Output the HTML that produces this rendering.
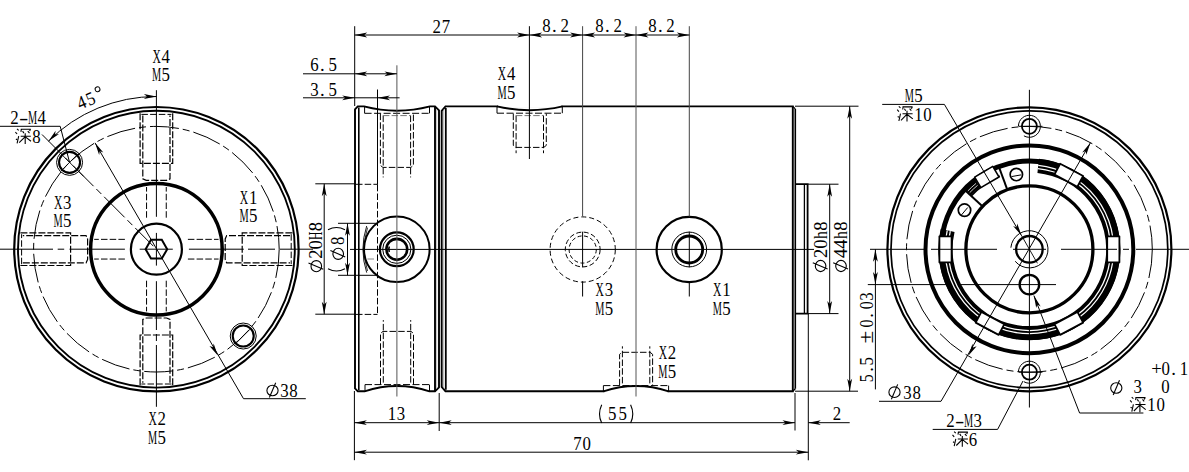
<!DOCTYPE html>
<html><head><meta charset="utf-8"><style>
html,body{margin:0;padding:0;background:#fff;width:1189px;height:472px;overflow:hidden}
svg{display:block}
text{font-family:"Liberation Serif",serif;fill:#000}
</style></head><body>
<svg width="1189" height="472" viewBox="0 0 1189 472">
<rect width="1189" height="472" fill="#fff"/>
<circle cx="156.4" cy="249.2" r="142.2" fill="none" stroke="#000" stroke-width="2.2"/>
<circle cx="156.4" cy="249.2" r="138.4" fill="none" stroke="#000" stroke-width="1.9"/>
<circle cx="156.4" cy="249.2" r="122.8" fill="none" stroke="#000" stroke-width="1" stroke-dasharray="29 4 7 4"/>
<circle cx="156.4" cy="249.2" r="65.8" fill="none" stroke="#000" stroke-width="3.5"/>
<circle cx="156.4" cy="249.2" r="25.5" fill="none" stroke="#000" stroke-width="2.2"/>
<polygon points="167.2,249.2 161.8,258.55 151,258.55 145.6,249.2 151,239.85 161.8,239.85" fill="none" stroke="#000" stroke-width="2"/>
<polyline points="292.4,232.9 242.2,232.9 242.2,265.5 292.4,265.5" fill="none" stroke="#000" stroke-width="1.2" stroke-dasharray="7 2"/>
<polyline points="290,235.6 226.7,235.6 225.2,239 225.2,259.4 226.7,262.8 290,262.8" fill="none" stroke="#000" stroke-width="1.2" stroke-dasharray="7 2"/>
<polyline points="291.2,234.2 291.2,264.2" fill="none" stroke="#000" stroke-width="1" stroke-dasharray="6.5 2.2"/>
<polyline points="187.9,239.35 218.6,239.35" fill="none" stroke="#000" stroke-width="1" stroke-dasharray="6.5 2.2"/>
<polyline points="187.9,259.05 218.6,259.05" fill="none" stroke="#000" stroke-width="1" stroke-dasharray="6.5 2.2"/>
<polyline points="172.7,385.2 172.7,335 140.1,335 140.1,385.2" fill="none" stroke="#000" stroke-width="1.2" stroke-dasharray="7 2"/>
<polyline points="170,382.8 170,319.5 166.6,318 146.2,318 142.8,319.5 142.8,382.8" fill="none" stroke="#000" stroke-width="1.2" stroke-dasharray="7 2"/>
<polyline points="171.4,384 141.4,384" fill="none" stroke="#000" stroke-width="1" stroke-dasharray="6.5 2.2"/>
<polyline points="166.25,280.7 166.25,311.4" fill="none" stroke="#000" stroke-width="1" stroke-dasharray="6.5 2.2"/>
<polyline points="146.55,280.7 146.55,311.4" fill="none" stroke="#000" stroke-width="1" stroke-dasharray="6.5 2.2"/>
<polyline points="20.4,265.5 70.6,265.5 70.6,232.9 20.4,232.9" fill="none" stroke="#000" stroke-width="1.2" stroke-dasharray="7 2"/>
<polyline points="22.8,262.8 86.1,262.8 87.6,259.4 87.6,239 86.1,235.6 22.8,235.6" fill="none" stroke="#000" stroke-width="1.2" stroke-dasharray="7 2"/>
<polyline points="21.6,264.2 21.6,234.2" fill="none" stroke="#000" stroke-width="1" stroke-dasharray="6.5 2.2"/>
<polyline points="124.9,259.05 94.2,259.05" fill="none" stroke="#000" stroke-width="1" stroke-dasharray="6.5 2.2"/>
<polyline points="124.9,239.35 94.2,239.35" fill="none" stroke="#000" stroke-width="1" stroke-dasharray="6.5 2.2"/>
<polyline points="140.1,113.2 140.1,163.4 172.7,163.4 172.7,113.2" fill="none" stroke="#000" stroke-width="1.2" stroke-dasharray="7 2"/>
<polyline points="142.8,115.6 142.8,178.9 146.2,180.4 166.6,180.4 170,178.9 170,115.6" fill="none" stroke="#000" stroke-width="1.2" stroke-dasharray="7 2"/>
<polyline points="141.4,114.4 171.4,114.4" fill="none" stroke="#000" stroke-width="1" stroke-dasharray="6.5 2.2"/>
<polyline points="146.55,217.7 146.55,187" fill="none" stroke="#000" stroke-width="1" stroke-dasharray="6.5 2.2"/>
<polyline points="166.25,217.7 166.25,187" fill="none" stroke="#000" stroke-width="1" stroke-dasharray="6.5 2.2"/>
<line x1="0" y1="249.2" x2="53" y2="249.2" stroke="#000" stroke-width="1" stroke-linecap="butt"/>
<line x1="57.7" y1="249.2" x2="64.2" y2="249.2" stroke="#000" stroke-width="1" stroke-linecap="butt"/>
<line x1="69.5" y1="249.2" x2="124.9" y2="249.2" stroke="#000" stroke-width="1" stroke-linecap="butt"/>
<line x1="139.7" y1="249.2" x2="172.8" y2="249.2" stroke="#000" stroke-width="1" stroke-linecap="butt"/>
<line x1="188.9" y1="249.2" x2="243.8" y2="249.2" stroke="#000" stroke-width="1" stroke-linecap="butt"/>
<line x1="248" y1="249.2" x2="275" y2="249.2" stroke="#000" stroke-width="1" stroke-linecap="butt"/>
<line x1="280" y1="249.2" x2="313" y2="249.2" stroke="#000" stroke-width="1" stroke-linecap="butt"/>
<line x1="156.4" y1="90.2" x2="156.4" y2="216.8" stroke="#000" stroke-width="1" stroke-linecap="butt"/>
<line x1="156.4" y1="232.9" x2="156.4" y2="265.6" stroke="#000" stroke-width="1" stroke-linecap="butt"/>
<line x1="156.4" y1="281.2" x2="156.4" y2="330" stroke="#000" stroke-width="1" stroke-linecap="butt"/>
<line x1="156.4" y1="334" x2="156.4" y2="341" stroke="#000" stroke-width="1" stroke-linecap="butt"/>
<line x1="156.4" y1="345" x2="156.4" y2="406.8" stroke="#000" stroke-width="1" stroke-linecap="butt"/>
<line x1="42" y1="134.5" x2="153.4" y2="246.2" stroke="#000" stroke-width="1" stroke-dasharray="29 4 7 4" stroke-linecap="butt"/>
<circle cx="69.57" cy="162.37" r="10.5" fill="none" stroke="#000" stroke-width="2.1"/>
<circle cx="69.57" cy="162.37" r="13" fill="none" stroke="#000" stroke-width="1"/>
<circle cx="243.23" cy="336.03" r="10.5" fill="none" stroke="#000" stroke-width="2.1"/>
<circle cx="243.23" cy="336.03" r="13" fill="none" stroke="#000" stroke-width="1"/>
<line x1="60.57" y1="171.37" x2="78.57" y2="153.37" stroke="#000" stroke-width="0.9" stroke-linecap="butt"/>
<line x1="60.57" y1="153.37" x2="83.57" y2="176.37" stroke="#000" stroke-width="0.9" stroke-linecap="butt"/>
<line x1="235.23" y1="344.03" x2="251.23" y2="328.03" stroke="#000" stroke-width="0.9" stroke-linecap="butt"/>
<line x1="0" y1="126.3" x2="60.2" y2="126.3" stroke="#000" stroke-width="1" stroke-linecap="butt"/>
<line x1="60.2" y1="126.3" x2="69.57" y2="162.37" stroke="#000" stroke-width="1" stroke-linecap="butt"/>
<g font-size="18.7"><text transform="translate(14.45 123.6) scale(0.9 1)" text-anchor="middle">2</text><text transform="translate(23.55 123.6) scale(1.5 1)" text-anchor="middle">-</text><text transform="translate(32.65 123.6) scale(0.55 1)" text-anchor="middle">M</text><text transform="translate(41.75 123.6) scale(0.9 1)" text-anchor="middle">4</text></g>
<g transform="translate(14.9 128.5)"><path d="M2.1 0.3 L3.8 1.8 M0.5 3.6 L2.2 5.5 M1.0 10.5 L2.2 11.2 M2.2 14.9 L3.8 7.6 M5.9 0.8 L15.9 0.8 M6.4 0.8 L6.0 3.4 M15.6 0.8 L14.7 2.6 M7.7 2.6 L9.0 4.6 M12.9 2.6 L14.6 4.6 M5.8 7.7 L15.9 7.7 M10.3 4.7 L10.3 15.4 M10.1 8.3 L4.3 14.2 M10.8 8.6 L16.1 12.8" fill="none" stroke="#000" stroke-width="1.1"/></g>
<g font-size="18.7"><text transform="translate(36.35 142.9) scale(0.9 1)" text-anchor="middle">8</text></g>
<path d="M48.42 141.22 A152.7 152.7 0 0 1 156.4 96.5" fill="none" stroke="#000" stroke-width="1"/>
<polygon points="156.4,96.5 143.9,94.1 146.9,96.5 143.9,98.9" fill="#000"/>
<polygon points="48.42,141.22 58.96,134.08 55.14,134.51 55.57,130.69" fill="#000"/>
<g transform="translate(80.5 109.5) rotate(-22.5)" font-size="18.7"><text transform="translate(3.6 0) scale(0.9 1)" text-anchor="middle">4</text><text transform="translate(13.4 0) scale(0.9 1)" text-anchor="middle">5</text><circle cx="23.5" cy="-12.2" r="2.4" fill="none" stroke="#000" stroke-width="1"/></g>
<polygon points="95,142.85 99.17,154.88 99.75,151.08 103.33,152.48" fill="#000"/>
<line x1="95" y1="142.85" x2="243.5" y2="398.7" stroke="#000" stroke-width="1" stroke-linecap="butt"/>
<line x1="243.5" y1="398.7" x2="305.8" y2="398.7" stroke="#000" stroke-width="1" stroke-linecap="butt"/>
<polygon points="217.8,355.55 213.63,343.52 213.05,347.32 209.47,345.92" fill="#000"/>
<g transform="translate(272.5 390.5) rotate(0) scale(1.0)"><ellipse cx="0" cy="0" rx="5.6" ry="5.3" fill="none" stroke="#000" stroke-width="1.1"/><line x1="3.2" y1="-7.8" x2="-3.1" y2="7" stroke="#000" stroke-width="1.1"/></g>
<g font-size="18.7"><text transform="translate(284.45 396.6) scale(0.9 1)" text-anchor="middle">3</text><text transform="translate(293.55 396.6) scale(0.9 1)" text-anchor="middle">8</text></g>
<g font-size="18.7"><text transform="translate(156.65 62.9) scale(0.62 1)" text-anchor="middle">X</text><text transform="translate(165.75 62.9) scale(0.9 1)" text-anchor="middle">4</text></g>
<g font-size="18.7"><text transform="translate(156.65 80.9) scale(0.55 1)" text-anchor="middle">M</text><text transform="translate(165.75 80.9) scale(0.9 1)" text-anchor="middle">5</text></g>
<g font-size="18.7"><text transform="translate(58.15 209.2) scale(0.62 1)" text-anchor="middle">X</text><text transform="translate(67.25 209.2) scale(0.9 1)" text-anchor="middle">3</text></g>
<g font-size="18.7"><text transform="translate(58.15 227.4) scale(0.55 1)" text-anchor="middle">M</text><text transform="translate(67.25 227.4) scale(0.9 1)" text-anchor="middle">5</text></g>
<g font-size="18.7"><text transform="translate(244.05 203.9) scale(0.62 1)" text-anchor="middle">X</text><text transform="translate(253.15 203.9) scale(0.9 1)" text-anchor="middle">1</text></g>
<g font-size="18.7"><text transform="translate(244.05 221.9) scale(0.55 1)" text-anchor="middle">M</text><text transform="translate(253.15 221.9) scale(0.9 1)" text-anchor="middle">5</text></g>
<g font-size="18.7"><text transform="translate(152.65 425.4) scale(0.62 1)" text-anchor="middle">X</text><text transform="translate(161.75 425.4) scale(0.9 1)" text-anchor="middle">2</text></g>
<g font-size="18.7"><text transform="translate(152.65 444) scale(0.55 1)" text-anchor="middle">M</text><text transform="translate(161.75 444) scale(0.9 1)" text-anchor="middle">5</text></g>
<path d="M355 388.3 L355 109.4 L357.8 106.4 L364 106.4 Q397 115.0 430 106.4 L435 106.4 L439 110.4 L439 387.3 L435 391.3 L429.5 391.3 Q397 380.7 364.5 391.3 L357.8 391.3 L355 388.3 Z" fill="none" stroke="#000" stroke-width="1.9"/>
<line x1="358.8" y1="107.6" x2="358.8" y2="390.1" stroke="#000" stroke-width="1.6" stroke-linecap="butt"/>
<line x1="435" y1="106.4" x2="435" y2="391.3" stroke="#000" stroke-width="1.9" stroke-linecap="butt"/>
<line x1="436.7" y1="109.4" x2="436.7" y2="388.3" stroke="#999" stroke-width="0.6" stroke-linecap="butt"/>
<path d="M441.7 110.9 L445.5 106.4 L792.8 106.4 L792.8 391.3 L445.5 391.3 L441.7 386.8 Z" fill="none" stroke="#000" stroke-width="1.9"/>
<line x1="443.5" y1="109.4" x2="443.5" y2="388.3" stroke="#999" stroke-width="0.6" stroke-linecap="butt"/>
<line x1="445.8" y1="107.9" x2="445.8" y2="389.8" stroke="#000" stroke-width="1.8" stroke-linecap="butt"/>
<line x1="795.3" y1="108.9" x2="795.3" y2="388.8" stroke="#000" stroke-width="1.6" stroke-linecap="butt"/>
<polyline points="792.8,106.4 795.3,108.9" fill="none" stroke="#000" stroke-width="1.3"/>
<polyline points="792.8,391.3 795.3,388.8" fill="none" stroke="#000" stroke-width="1.3"/>
<rect x="498" y="104.4" width="63.5" height="3.5" fill="#fff"/>
<path d="M497 106.4 Q529.5 114 562.5 106.4" fill="none" stroke="#000" stroke-width="1.9"/>
<rect x="604.4" y="389.8" width="63.2" height="3.5" fill="#fff"/>
<path d="M603.4 391.3 Q636 380.7 668.6 391.3" fill="none" stroke="#000" stroke-width="1.9"/>
<path d="M795 184.2 L807.6 184.2 L807.6 313.6 L795 313.6" fill="none" stroke="#000" stroke-width="1.8"/>
<line x1="804.4" y1="185" x2="804.4" y2="313" stroke="#000" stroke-width="1.3" stroke-linecap="butt"/>
<line x1="364.6" y1="106.4" x2="364.6" y2="113.3" stroke="#000" stroke-width="1" stroke-linecap="butt"/>
<line x1="429.5" y1="106.4" x2="429.5" y2="113.3" stroke="#000" stroke-width="1" stroke-linecap="butt"/>
<line x1="364.6" y1="113.3" x2="429.5" y2="113.3" stroke="#000" stroke-width="1" stroke-dasharray="7 2.5" stroke-linecap="butt"/>
<line x1="365" y1="391.3" x2="365" y2="384.6" stroke="#000" stroke-width="1" stroke-linecap="butt"/>
<line x1="429.5" y1="391.3" x2="429.5" y2="384.6" stroke="#000" stroke-width="1" stroke-linecap="butt"/>
<line x1="365" y1="384.6" x2="429.5" y2="384.6" stroke="#000" stroke-width="1" stroke-dasharray="7 2.5" stroke-linecap="butt"/>
<line x1="497" y1="106.4" x2="497" y2="113.2" stroke="#000" stroke-width="1" stroke-linecap="butt"/>
<line x1="562.3" y1="106.4" x2="562.3" y2="113.2" stroke="#000" stroke-width="1" stroke-linecap="butt"/>
<line x1="497" y1="113.2" x2="562.3" y2="113.2" stroke="#000" stroke-width="1" stroke-dasharray="7 2.5" stroke-linecap="butt"/>
<line x1="603.4" y1="391.3" x2="603.4" y2="385.6" stroke="#000" stroke-width="1" stroke-linecap="butt"/>
<line x1="668.6" y1="391.3" x2="668.6" y2="385.6" stroke="#000" stroke-width="1" stroke-linecap="butt"/>
<line x1="603.4" y1="385.6" x2="668.6" y2="385.6" stroke="#000" stroke-width="1" stroke-dasharray="7 2.5" stroke-linecap="butt"/>
<polyline points="380.4,113.6 380.4,165.4 382.9,167.4 410.9,167.4 413.4,165.4 413.4,113.6" fill="none" stroke="#000" stroke-width="1" stroke-dasharray="6.5 2.2"/>
<line x1="383.2" y1="115.6" x2="383.2" y2="177.4" stroke="#000" stroke-width="1" stroke-dasharray="6.5 2.2" stroke-linecap="butt"/>
<line x1="410.6" y1="115.6" x2="410.6" y2="177.4" stroke="#000" stroke-width="1" stroke-dasharray="6.5 2.2" stroke-linecap="butt"/>
<line x1="382.9" y1="115.6" x2="410.9" y2="115.6" stroke="#777" stroke-width="1" stroke-dasharray="6.5 2.2" stroke-linecap="butt"/>
<polyline points="380.5,384.6 380.5,333.4 383,331.4 411,331.4 413.5,333.4 413.5,384.6" fill="none" stroke="#000" stroke-width="1" stroke-dasharray="6.5 2.2"/>
<line x1="383.3" y1="382.6" x2="383.3" y2="320.1" stroke="#000" stroke-width="1" stroke-dasharray="6.5 2.2" stroke-linecap="butt"/>
<line x1="410.7" y1="382.6" x2="410.7" y2="320.1" stroke="#000" stroke-width="1" stroke-dasharray="6.5 2.2" stroke-linecap="butt"/>
<polyline points="513.3,113.6 513.3,145.4 515.8,147.4 543.8,147.4 546.3,145.4 546.3,113.6" fill="none" stroke="#000" stroke-width="1" stroke-dasharray="6.5 2.2"/>
<line x1="516.1" y1="115.6" x2="516.1" y2="153.2" stroke="#000" stroke-width="1" stroke-dasharray="6.5 2.2" stroke-linecap="butt"/>
<line x1="543.5" y1="115.6" x2="543.5" y2="153.2" stroke="#000" stroke-width="1" stroke-dasharray="6.5 2.2" stroke-linecap="butt"/>
<line x1="515.8" y1="115.6" x2="543.8" y2="115.6" stroke="#777" stroke-width="1" stroke-dasharray="6.5 2.2" stroke-linecap="butt"/>
<polyline points="619.6,385.4 619.6,354.3 622.1,352.3 650.1,352.3 652.6,354.3 652.6,385.4" fill="none" stroke="#000" stroke-width="1" stroke-dasharray="6.5 2.2"/>
<line x1="622.4" y1="383.4" x2="622.4" y2="346.3" stroke="#000" stroke-width="1" stroke-dasharray="6.5 2.2" stroke-linecap="butt"/>
<line x1="649.8" y1="383.4" x2="649.8" y2="346.3" stroke="#000" stroke-width="1" stroke-dasharray="6.5 2.2" stroke-linecap="butt"/>
<line x1="377.5" y1="184.8" x2="377.5" y2="314.2" stroke="#000" stroke-width="1" stroke-dasharray="6.5 2.2" stroke-linecap="butt"/>
<line x1="356" y1="184.3" x2="377.5" y2="184.3" stroke="#000" stroke-width="1" stroke-dasharray="6.5 2.2" stroke-linecap="butt"/>
<line x1="356" y1="314.4" x2="377.5" y2="314.4" stroke="#000" stroke-width="1" stroke-dasharray="6.5 2.2" stroke-linecap="butt"/>
<circle cx="396.8" cy="249.3" r="32.8" fill="none" stroke="#000" stroke-width="2"/>
<circle cx="396.8" cy="249.3" r="16.9" fill="none" stroke="#000" stroke-width="2.2"/>
<circle cx="396.8" cy="249.3" r="14.1" fill="none" stroke="#000" stroke-width="1"/>
<circle cx="396.8" cy="249.3" r="10.4" fill="none" stroke="#000" stroke-width="2.6"/>
<path d="M389.28 252.04 A8 8 0 0 1 389.28 246.56" fill="none" stroke="#000" stroke-width="1.6"/>
<path d="M366.7 272.63 A75.5 75.5 0 0 1 366.7 225.97" fill="none" stroke="#000" stroke-width="0.9"/>
<path d="M367.54 270.99 A74.2 74.2 0 0 1 367.54 227.61" fill="none" stroke="#000" stroke-width="0.8"/>
<line x1="367.4" y1="259" x2="374" y2="259" stroke="#888" stroke-width="1" stroke-linecap="butt"/>
<circle cx="582.7" cy="249.5" r="32.6" fill="none" stroke="#000" stroke-width="1" stroke-dasharray="5 3"/>
<circle cx="582.7" cy="249.5" r="17.4" fill="none" stroke="#000" stroke-width="1" stroke-dasharray="5 2.5"/>
<circle cx="582.7" cy="249.5" r="13.6" fill="none" stroke="#000" stroke-width="1" stroke-dasharray="4 2.5"/>
<circle cx="689.2" cy="249.5" r="32.6" fill="none" stroke="#000" stroke-width="2.2"/>
<circle cx="689.2" cy="249.5" r="17.4" fill="none" stroke="#000" stroke-width="1"/>
<circle cx="689.2" cy="249.5" r="13.5" fill="none" stroke="#000" stroke-width="2.8"/>
<line x1="350" y1="249.4" x2="814" y2="249.4" stroke="#000" stroke-width="1" stroke-linecap="butt"/>
<line x1="396.9" y1="65.3" x2="396.9" y2="396.5" stroke="#555" stroke-width="1" stroke-linecap="butt"/>
<line x1="529.4" y1="26.2" x2="529.4" y2="159" stroke="#000" stroke-width="1" stroke-linecap="butt"/>
<line x1="582.6" y1="26.2" x2="582.6" y2="216.5" stroke="#444" stroke-width="1" stroke-linecap="butt"/>
<line x1="582.6" y1="231.7" x2="582.6" y2="267.3" stroke="#000" stroke-width="1" stroke-linecap="butt"/>
<line x1="582.6" y1="281.2" x2="582.6" y2="296.5" stroke="#000" stroke-width="1" stroke-linecap="butt"/>
<line x1="636" y1="26.2" x2="636" y2="396.5" stroke="#555" stroke-width="1" stroke-linecap="butt"/>
<line x1="689.3" y1="26.2" x2="689.3" y2="216.5" stroke="#444" stroke-width="1" stroke-linecap="butt"/>
<line x1="689.3" y1="231.7" x2="689.3" y2="267.3" stroke="#000" stroke-width="1" stroke-linecap="butt"/>
<line x1="689.3" y1="281.2" x2="689.3" y2="296.5" stroke="#000" stroke-width="1" stroke-linecap="butt"/>
<line x1="354.7" y1="26.2" x2="354.7" y2="106" stroke="#000" stroke-width="1" stroke-linecap="butt"/>
<line x1="377.5" y1="89.5" x2="377.5" y2="184.8" stroke="#000" stroke-width="1" stroke-linecap="butt"/>
<line x1="354.7" y1="35" x2="689.4" y2="35" stroke="#000" stroke-width="1" stroke-linecap="butt"/>
<polygon points="354.7,35 367.2,37.4 364.2,35 367.2,32.6" fill="#000"/>
<polygon points="529.6,35 517.1,32.6 520.1,35 517.1,37.4" fill="#000"/>
<polygon points="529.6,35 542.1,37.4 539.1,35 542.1,32.6" fill="#000"/>
<polygon points="582.6,35 570.1,32.6 573.1,35 570.1,37.4" fill="#000"/>
<polygon points="582.6,35 595.1,37.4 592.1,35 595.1,32.6" fill="#000"/>
<polygon points="636,35 623.5,32.6 626.5,35 623.5,37.4" fill="#000"/>
<polygon points="636,35 648.5,37.4 645.5,35 648.5,32.6" fill="#000"/>
<polygon points="689.3,35 676.8,32.6 679.8,35 676.8,37.4" fill="#000"/>
<g font-size="18.7"><text transform="translate(436.75 32.5) scale(0.9 1)" text-anchor="middle">2</text><text transform="translate(445.85 32.5) scale(0.9 1)" text-anchor="middle">7</text></g>
<g font-size="18.7"><text transform="translate(546.55 31.8) scale(0.9 1)" text-anchor="middle">8</text><text x="552.1" y="31.8">.</text><text transform="translate(564.75 31.8) scale(0.9 1)" text-anchor="middle">2</text></g>
<g font-size="18.7"><text transform="translate(599.45 31.8) scale(0.9 1)" text-anchor="middle">8</text><text x="605" y="31.8">.</text><text transform="translate(617.65 31.8) scale(0.9 1)" text-anchor="middle">2</text></g>
<g font-size="18.7"><text transform="translate(652.35 31.8) scale(0.9 1)" text-anchor="middle">8</text><text x="657.9" y="31.8">.</text><text transform="translate(670.55 31.8) scale(0.9 1)" text-anchor="middle">2</text></g>
<line x1="303" y1="73.8" x2="396.9" y2="73.8" stroke="#000" stroke-width="1" stroke-linecap="butt"/>
<polygon points="354.7,73.8 367.2,76.2 364.2,73.8 367.2,71.4" fill="#000"/>
<polygon points="396.9,73.8 384.4,71.4 387.4,73.8 384.4,76.2" fill="#000"/>
<g font-size="18.7"><text transform="translate(314.45 71) scale(0.9 1)" text-anchor="middle">6</text><text x="320" y="71">.</text><text transform="translate(332.65 71) scale(0.9 1)" text-anchor="middle">5</text></g>
<line x1="303" y1="97.8" x2="399.6" y2="97.8" stroke="#000" stroke-width="1" stroke-linecap="butt"/>
<polygon points="354.7,97.8 342.2,95.4 345.2,97.8 342.2,100.2" fill="#000"/>
<polygon points="377.5,97.8 390,100.2 387,97.8 390,95.4" fill="#000"/>
<g font-size="18.7"><text transform="translate(314.45 95.9) scale(0.9 1)" text-anchor="middle">3</text><text x="320" y="95.9">.</text><text transform="translate(332.65 95.9) scale(0.9 1)" text-anchor="middle">5</text></g>
<line x1="354.4" y1="391" x2="354.4" y2="460.2" stroke="#000" stroke-width="1" stroke-linecap="butt"/>
<line x1="439.2" y1="393" x2="439.2" y2="431" stroke="#000" stroke-width="1" stroke-linecap="butt"/>
<line x1="795" y1="393" x2="795" y2="430.5" stroke="#000" stroke-width="1" stroke-linecap="butt"/>
<line x1="808.3" y1="313.6" x2="808.3" y2="460.3" stroke="#000" stroke-width="1" stroke-linecap="butt"/>
<line x1="354.4" y1="422.7" x2="795" y2="422.7" stroke="#000" stroke-width="1" stroke-linecap="butt"/>
<polygon points="354.4,422.7 366.9,425.1 363.9,422.7 366.9,420.3" fill="#000"/>
<polygon points="439.2,422.7 426.7,420.3 429.7,422.7 426.7,425.1" fill="#000"/>
<polygon points="439.2,422.7 451.7,425.1 448.7,422.7 451.7,420.3" fill="#000"/>
<polygon points="795,422.7 782.5,420.3 785.5,422.7 782.5,425.1" fill="#000"/>
<g font-size="18.7"><text transform="translate(391.95 420.2) scale(0.9 1)" text-anchor="middle">1</text><text transform="translate(401.05 420.2) scale(0.9 1)" text-anchor="middle">3</text></g>
<g font-size="18.7"><path d="M601.7 404.8 Q597.3 414.3 601.7 423.1" fill="none" stroke="#000" stroke-width="1.1"/><text transform="translate(612.25 420.3) scale(0.9 1)" text-anchor="middle">5</text><text transform="translate(622.75 420.3) scale(0.9 1)" text-anchor="middle">5</text><path d="M630.6 404.8 Q635 414.3 630.6 423.1" fill="none" stroke="#000" stroke-width="1.1"/></g>
<line x1="808.3" y1="422.7" x2="849.7" y2="422.7" stroke="#000" stroke-width="1" stroke-linecap="butt"/>
<polygon points="808.3,422.7 820.8,425.1 817.8,422.7 820.8,420.3" fill="#000"/>
<g font-size="18.7"><text transform="translate(836.95 420.3) scale(0.9 1)" text-anchor="middle">2</text></g>
<line x1="354.4" y1="452.2" x2="808.3" y2="452.2" stroke="#000" stroke-width="1" stroke-linecap="butt"/>
<polygon points="354.4,452.2 366.9,454.6 363.9,452.2 366.9,449.8" fill="#000"/>
<polygon points="808.3,452.2 795.8,449.8 798.8,452.2 795.8,454.6" fill="#000"/>
<g font-size="18.7"><text transform="translate(577.55 450) scale(0.9 1)" text-anchor="middle">7</text><text transform="translate(586.65 450) scale(0.9 1)" text-anchor="middle">0</text></g>
<line x1="315.3" y1="183.8" x2="356" y2="183.8" stroke="#000" stroke-width="1" stroke-linecap="butt"/>
<line x1="315.3" y1="314.2" x2="356" y2="314.2" stroke="#000" stroke-width="1" stroke-linecap="butt"/>
<line x1="324.2" y1="183.8" x2="324.2" y2="314.2" stroke="#000" stroke-width="1" stroke-linecap="butt"/>
<polygon points="324.2,183.8 321.8,196.3 324.2,193.3 326.6,196.3" fill="#000"/>
<polygon points="324.2,314.2 326.6,301.7 324.2,304.7 321.8,301.7" fill="#000"/>
<line x1="338" y1="223.3" x2="376" y2="223.3" stroke="#000" stroke-width="1" stroke-linecap="butt"/>
<line x1="338" y1="275.3" x2="376" y2="275.3" stroke="#000" stroke-width="1" stroke-linecap="butt"/>
<line x1="347.5" y1="223.3" x2="347.5" y2="275.3" stroke="#000" stroke-width="1" stroke-linecap="butt"/>
<polygon points="347.5,223.3 345.1,235.8 347.5,232.8 349.9,235.8" fill="#000"/>
<polygon points="347.5,275.3 349.9,262.8 347.5,265.8 345.1,262.8" fill="#000"/>
<g transform="translate(316.3 266.2) rotate(-90) scale(1.0)"><ellipse cx="0" cy="0" rx="5.6" ry="5.3" fill="none" stroke="#000" stroke-width="1.1"/><line x1="3.2" y1="-7.8" x2="-3.1" y2="7" stroke="#000" stroke-width="1.1"/></g>
<g transform="translate(322.3 258.5) rotate(-90)" font-size="18.7"><text transform="translate(4.5 0) scale(1 1)" text-anchor="middle">2</text><text transform="translate(13.6 0)" text-anchor="middle">0</text><text transform="translate(22.7 0) scale(0.62 1)" text-anchor="middle">H</text><text transform="translate(31.8 0)" text-anchor="middle">8</text></g>
<g transform="translate(344.5 271.7) rotate(-90)"><path d="M3 -16.5 Q-1.5 -8 3 0.5" fill="none" stroke="#000" stroke-width="1.1"/><path d="M42 -16.5 Q46.5 -8 42 0.5" fill="none" stroke="#000" stroke-width="1.1"/></g>
<g transform="translate(338.2 253.8) rotate(-90) scale(1.0)"><ellipse cx="0" cy="0" rx="5.6" ry="5.3" fill="none" stroke="#000" stroke-width="1.1"/><line x1="3.2" y1="-7.8" x2="-3.1" y2="7" stroke="#000" stroke-width="1.1"/></g>
<g transform="translate(344.2 240.8) rotate(-90)" font-size="18.7"><text transform="scale(0.9 1)" text-anchor="middle">8</text></g>
<line x1="808" y1="184.2" x2="838.5" y2="184.2" stroke="#000" stroke-width="1" stroke-linecap="butt"/>
<line x1="808" y1="313.6" x2="838.5" y2="313.6" stroke="#000" stroke-width="1" stroke-linecap="butt"/>
<line x1="829.7" y1="184.2" x2="829.7" y2="313.6" stroke="#000" stroke-width="1" stroke-linecap="butt"/>
<polygon points="829.7,184.2 827.3,196.7 829.7,193.7 832.1,196.7" fill="#000"/>
<polygon points="829.7,313.6 832.1,301.1 829.7,304.1 827.3,301.1" fill="#000"/>
<line x1="795" y1="106.2" x2="858.5" y2="106.2" stroke="#000" stroke-width="1" stroke-linecap="butt"/>
<line x1="795" y1="391.2" x2="858" y2="391.2" stroke="#000" stroke-width="1" stroke-linecap="butt"/>
<line x1="849.7" y1="106.2" x2="849.7" y2="391.2" stroke="#000" stroke-width="1" stroke-linecap="butt"/>
<polygon points="849.7,106.2 847.3,118.7 849.7,115.7 852.1,118.7" fill="#000"/>
<polygon points="849.7,391.2 852.1,378.7 849.7,381.7 847.3,378.7" fill="#000"/>
<g transform="translate(820.6 266) rotate(-90) scale(1.0)"><ellipse cx="0" cy="0" rx="5.6" ry="5.3" fill="none" stroke="#000" stroke-width="1.1"/><line x1="3.2" y1="-7.8" x2="-3.1" y2="7" stroke="#000" stroke-width="1.1"/></g>
<g transform="translate(827.0 257.8) rotate(-90)" font-size="18.7"><text transform="translate(4.5 0)" text-anchor="middle">2</text><text transform="translate(13.6 0)" text-anchor="middle">0</text><text transform="translate(22.7 0) scale(0.85 1)" text-anchor="middle">h</text><text transform="translate(31.8 0)" text-anchor="middle">8</text></g>
<g transform="translate(841 266) rotate(-90) scale(1.0)"><ellipse cx="0" cy="0" rx="5.6" ry="5.3" fill="none" stroke="#000" stroke-width="1.1"/><line x1="3.2" y1="-7.8" x2="-3.1" y2="7" stroke="#000" stroke-width="1.1"/></g>
<g transform="translate(847.4 257.8) rotate(-90)" font-size="18.7"><text transform="translate(4.5 0)" text-anchor="middle">4</text><text transform="translate(13.6 0)" text-anchor="middle">4</text><text transform="translate(22.7 0) scale(0.85 1)" text-anchor="middle">h</text><text transform="translate(31.8 0)" text-anchor="middle">8</text></g>
<line x1="875.4" y1="249.3" x2="875.4" y2="389.4" stroke="#000" stroke-width="1" stroke-linecap="butt"/>
<polygon points="875.4,249.3 873,261.8 875.4,258.8 877.8,261.8" fill="#000"/>
<polygon points="875.4,284.6 877.8,272.1 875.4,275.1 873,272.1" fill="#000"/>
<line x1="867.8" y1="284.6" x2="1056" y2="284.6" stroke="#000" stroke-width="1" stroke-linecap="butt"/>
<g transform="translate(872.8 382) rotate(-90)" font-size="18.7"><text transform="translate(3.8 0) scale(0.85 1)" text-anchor="middle">5</text><text x="10.2" y="0">.</text><text transform="translate(20.6 0) scale(0.9 1)" text-anchor="middle">5</text><text transform="translate(45 0) scale(1.25 1.1)" text-anchor="middle">±</text><text transform="translate(58.5 0) scale(0.85 1)" text-anchor="middle">0</text><text x="64.3" y="0">.</text><text transform="translate(76.6 0) scale(0.85 1)" text-anchor="middle">0</text><text transform="translate(85.5 0) scale(0.9 1)" text-anchor="middle">3</text></g>
<g font-size="18.7"><text transform="translate(502.05 79.8) scale(0.62 1)" text-anchor="middle">X</text><text transform="translate(511.15 79.8) scale(0.9 1)" text-anchor="middle">4</text></g>
<g font-size="18.7"><text transform="translate(502.05 98.5) scale(0.55 1)" text-anchor="middle">M</text><text transform="translate(511.15 98.5) scale(0.9 1)" text-anchor="middle">5</text></g>
<g font-size="18.7"><text transform="translate(599.75 295.7) scale(0.62 1)" text-anchor="middle">X</text><text transform="translate(608.85 295.7) scale(0.9 1)" text-anchor="middle">3</text></g>
<g font-size="18.7"><text transform="translate(599.75 314.8) scale(0.55 1)" text-anchor="middle">M</text><text transform="translate(608.85 314.8) scale(0.9 1)" text-anchor="middle">5</text></g>
<g font-size="18.7"><text transform="translate(717.25 295.7) scale(0.62 1)" text-anchor="middle">X</text><text transform="translate(726.35 295.7) scale(0.9 1)" text-anchor="middle">1</text></g>
<g font-size="18.7"><text transform="translate(717.25 314.8) scale(0.55 1)" text-anchor="middle">M</text><text transform="translate(726.35 314.8) scale(0.9 1)" text-anchor="middle">5</text></g>
<g font-size="18.7"><text transform="translate(662.85 358.9) scale(0.62 1)" text-anchor="middle">X</text><text transform="translate(671.95 358.9) scale(0.9 1)" text-anchor="middle">2</text></g>
<g font-size="18.7"><text transform="translate(662.85 377.5) scale(0.55 1)" text-anchor="middle">M</text><text transform="translate(671.95 377.5) scale(0.9 1)" text-anchor="middle">5</text></g>
<circle cx="1029.4" cy="249.3" r="142" fill="none" stroke="#000" stroke-width="2.2"/>
<circle cx="1029.4" cy="249.3" r="138.4" fill="none" stroke="#000" stroke-width="1.7"/>
<circle cx="1029.4" cy="249.3" r="122.9" fill="none" stroke="#000" stroke-width="1" stroke-dasharray="29 4 7 4"/>
<circle cx="1029.4" cy="249.3" r="103.9" fill="none" stroke="#000" stroke-width="4"/>
<circle cx="1029.4" cy="249.3" r="63.5" fill="none" stroke="#000" stroke-width="3.3"/>
<circle cx="1029.4" cy="249.3" r="88.3" fill="none" stroke="#000" stroke-width="5"/>
<path d="M1038.17 165.86 A83.9 83.9 0 1 1 947.65 230.43" fill="none" stroke="#000" stroke-width="14.2"/>
<path d="M1037.89 168.54 A81.2 81.2 0 1 1 950.28 231.03" fill="none" stroke="#fff" stroke-width="1.25"/>
<path d="M1038.21 165.46 A84.3 84.3 0 1 1 947.26 230.34" fill="none" stroke="#fff" stroke-width="1.25"/>
<polygon points="1107.2,236.3 1119.4,236.3 1119.4,262.3 1107.2,262.3" fill="#fff" stroke="#000" stroke-width="1.8" stroke-linejoin="round"/>
<polygon points="951.6,262.3 939.4,262.3 939.4,236.3 951.6,236.3" fill="#fff" stroke="#000" stroke-width="1.8" stroke-linejoin="round"/>
<polygon points="1077.4,311.89 1083.13,322.66 1060.17,334.87 1054.45,324.1" fill="#fff" stroke="#000" stroke-width="1.8" stroke-linejoin="round"/>
<polygon points="1004.35,324.1 998.63,334.87 975.67,322.66 981.4,311.89" fill="#fff" stroke="#000" stroke-width="1.8" stroke-linejoin="round"/>
<polygon points="1054.45,174.5 1060.17,163.73 1083.13,175.94 1077.4,186.71" fill="#fff" stroke="#000" stroke-width="1.8" stroke-linejoin="round"/>
<circle cx="964.49" cy="210.15" r="6.2" fill="none" stroke="#000" stroke-width="1.7"/>
<line x1="961.28" y1="215.18" x2="967.71" y2="207.52" stroke="#000" stroke-width="1" stroke-linecap="butt"/>
<circle cx="1016.35" cy="174.53" r="6.2" fill="none" stroke="#000" stroke-width="1.7"/>
<line x1="1011.43" y1="176.6" x2="1021.27" y2="174.86" stroke="#000" stroke-width="1" stroke-linecap="butt"/>
<line x1="981.85" y1="205.72" x2="964.52" y2="189.85" stroke="#000" stroke-width="2" stroke-linecap="butt"/>
<line x1="1007.02" y1="188.81" x2="998.87" y2="166.77" stroke="#000" stroke-width="2" stroke-linecap="butt"/>
<path d="M971.16 195.93 A79 79 0 0 1 999.81 176.05" fill="none" stroke="#000" stroke-width="1.8"/>
<path d="M967.47 192.55 A84 84 0 0 1 977.68 183.11" fill="none" stroke="#000" stroke-width="9"/>
<path d="M969.7 192.65 A82.3 82.3 0 0 1 977.61 185.34" fill="none" stroke="#fff" stroke-width="0.8"/>
<path d="M967.89 190.93 A84.8 84.8 0 0 1 976.03 183.4" fill="none" stroke="#fff" stroke-width="0.8"/>
<polygon points="980.87,187.59 974.67,177.08 992.77,166.42 998.96,176.94" fill="#fff" stroke="#000" stroke-width="1.6" stroke-linejoin="round"/>
<circle cx="1029.4" cy="249.3" r="13.3" fill="none" stroke="#000" stroke-width="2.3"/>
<path d="M1010.87 247.68 A18.6 18.6 0 1 1 1015.15 261.26" fill="none" stroke="#000" stroke-width="1"/>
<circle cx="1029.4" cy="284.6" r="9.8" fill="none" stroke="#000" stroke-width="2.3"/>
<circle cx="1029.4" cy="126.3" r="7.5" fill="none" stroke="#000" stroke-width="1.8"/>
<path d="M1018.4 126.3 A11 11 0 1 1 1023.9 135.83" fill="none" stroke="#000" stroke-width="1"/>
<line x1="1018.9" y1="126.3" x2="1042.4" y2="126.3" stroke="#000" stroke-width="1" stroke-linecap="butt"/>
<circle cx="1029.4" cy="372.2" r="7.5" fill="none" stroke="#000" stroke-width="1.8"/>
<path d="M1018.4 372.2 A11 11 0 1 1 1023.9 381.73" fill="none" stroke="#000" stroke-width="1"/>
<line x1="1018.9" y1="372.2" x2="1042.4" y2="372.2" stroke="#000" stroke-width="1" stroke-linecap="butt"/>
<line x1="1029.4" y1="89.8" x2="1029.4" y2="407.5" stroke="#000" stroke-width="1" stroke-linecap="butt"/>
<line x1="870" y1="249.3" x2="927" y2="249.3" stroke="#000" stroke-width="1" stroke-linecap="butt"/>
<line x1="931" y1="249.3" x2="997" y2="249.3" stroke="#000" stroke-width="1" stroke-linecap="butt"/>
<line x1="1013" y1="249.3" x2="1046" y2="249.3" stroke="#000" stroke-width="1" stroke-linecap="butt"/>
<line x1="1061" y1="249.3" x2="1117" y2="249.3" stroke="#000" stroke-width="1" stroke-linecap="butt"/>
<line x1="1123" y1="249.3" x2="1129" y2="249.3" stroke="#000" stroke-width="1" stroke-linecap="butt"/>
<line x1="1136" y1="249.3" x2="1189" y2="249.3" stroke="#000" stroke-width="1" stroke-linecap="butt"/>
<line x1="1037.4" y1="263.3" x2="1021.4" y2="235.3" stroke="#000" stroke-width="0.9" stroke-linecap="butt"/>
<g font-size="18.7"><text transform="translate(909.35 102.4) scale(0.55 1)" text-anchor="middle">M</text><text transform="translate(918.45 102.4) scale(0.9 1)" text-anchor="middle">5</text></g>
<g transform="translate(896.7 106.1)"><path d="M2.1 0.3 L3.8 1.8 M0.5 3.6 L2.2 5.5 M1.0 10.5 L2.2 11.2 M2.2 14.9 L3.8 7.6 M5.9 0.8 L15.9 0.8 M6.4 0.8 L6.0 3.4 M15.6 0.8 L14.7 2.6 M7.7 2.6 L9.0 4.6 M12.9 2.6 L14.6 4.6 M5.8 7.7 L15.9 7.7 M10.3 4.7 L10.3 15.4 M10.1 8.3 L4.3 14.2 M10.8 8.6 L16.1 12.8" fill="none" stroke="#000" stroke-width="1.1"/></g>
<g font-size="18.7"><text transform="translate(918.45 121.4) scale(0.9 1)" text-anchor="middle">1</text><text transform="translate(927.55 121.4) scale(0.9 1)" text-anchor="middle">0</text></g>
<line x1="882.2" y1="104.4" x2="944.4" y2="104.4" stroke="#000" stroke-width="1" stroke-linecap="butt"/>
<line x1="944.4" y1="104.4" x2="1021.5" y2="235.6" stroke="#000" stroke-width="1" stroke-linecap="butt"/>
<polygon points="1021.5,235.6 1017.24,223.61 1016.69,227.41 1013.1,226.04" fill="#000"/>
<line x1="1090.45" y1="142.76" x2="941" y2="401.3" stroke="#000" stroke-width="1" stroke-linecap="butt"/>
<polygon points="1090.45,142.76 1082.15,152.41 1085.73,151 1086.32,154.8" fill="#000"/>
<polygon points="968.35,355.84 976.65,346.19 973.07,347.6 972.48,343.8" fill="#000"/>
<line x1="879" y1="401.3" x2="941" y2="401.3" stroke="#000" stroke-width="1" stroke-linecap="butt"/>
<g transform="translate(894.5 392.2) rotate(0) scale(1.0)"><ellipse cx="0" cy="0" rx="5.6" ry="5.3" fill="none" stroke="#000" stroke-width="1.1"/><line x1="3.2" y1="-7.8" x2="-3.1" y2="7" stroke="#000" stroke-width="1.1"/></g>
<g font-size="18.7"><text transform="translate(907.55 399.2) scale(0.9 1)" text-anchor="middle">3</text><text transform="translate(916.65 399.2) scale(0.9 1)" text-anchor="middle">8</text></g>
<g font-size="18.7"><text transform="translate(950.45 426.9) scale(0.9 1)" text-anchor="middle">2</text><text transform="translate(959.55 426.9) scale(1.5 1)" text-anchor="middle">-</text><text transform="translate(968.65 426.9) scale(0.55 1)" text-anchor="middle">M</text><text transform="translate(977.75 426.9) scale(0.9 1)" text-anchor="middle">3</text></g>
<g transform="translate(952 431.3)"><path d="M2.1 0.3 L3.8 1.8 M0.5 3.6 L2.2 5.5 M1.0 10.5 L2.2 11.2 M2.2 14.9 L3.8 7.6 M5.9 0.8 L15.9 0.8 M6.4 0.8 L6.0 3.4 M15.6 0.8 L14.7 2.6 M7.7 2.6 L9.0 4.6 M12.9 2.6 L14.6 4.6 M5.8 7.7 L15.9 7.7 M10.3 4.7 L10.3 15.4 M10.1 8.3 L4.3 14.2 M10.8 8.6 L16.1 12.8" fill="none" stroke="#000" stroke-width="1.1"/></g>
<g font-size="18.7"><text transform="translate(972.95 445.8) scale(0.9 1)" text-anchor="middle">6</text></g>
<line x1="932.7" y1="429.4" x2="997.6" y2="429.4" stroke="#000" stroke-width="1" stroke-linecap="butt"/>
<line x1="997.6" y1="429.4" x2="1023" y2="381" stroke="#000" stroke-width="1" stroke-linecap="butt"/>
<g font-size="18.7"><text transform="translate(1156.55 374.7) scale(1.0 1)" text-anchor="middle">+</text><text transform="translate(1165.65 374.7) scale(0.9 1)" text-anchor="middle">0</text><text x="1171.2" y="374.7">.</text><text transform="translate(1183.85 374.7) scale(0.9 1)" text-anchor="middle">1</text></g>
<g transform="translate(1116.3 388) rotate(0) scale(1.0)"><ellipse cx="0" cy="0" rx="5.6" ry="5.3" fill="none" stroke="#000" stroke-width="1.1"/><line x1="3.2" y1="-7.8" x2="-3.1" y2="7" stroke="#000" stroke-width="1.1"/></g>
<g font-size="18.7"><text transform="translate(1137.75 393) scale(0.9 1)" text-anchor="middle">3</text></g>
<g font-size="18.7"><text transform="translate(1165.55 393) scale(0.9 1)" text-anchor="middle">0</text></g>
<g transform="translate(1129.6 396.8)"><path d="M2.1 0.3 L3.8 1.8 M0.5 3.6 L2.2 5.5 M1.0 10.5 L2.2 11.2 M2.2 14.9 L3.8 7.6 M5.9 0.8 L15.9 0.8 M6.4 0.8 L6.0 3.4 M15.6 0.8 L14.7 2.6 M7.7 2.6 L9.0 4.6 M12.9 2.6 L14.6 4.6 M5.8 7.7 L15.9 7.7 M10.3 4.7 L10.3 15.4 M10.1 8.3 L4.3 14.2 M10.8 8.6 L16.1 12.8" fill="none" stroke="#000" stroke-width="1.1"/></g>
<g font-size="18.7"><text transform="translate(1151.55 411.2) scale(0.9 1)" text-anchor="middle">1</text><text transform="translate(1160.65 411.2) scale(0.9 1)" text-anchor="middle">0</text></g>
<line x1="1079.6" y1="413" x2="1143.4" y2="413" stroke="#000" stroke-width="1" stroke-linecap="butt"/>
<line x1="1079.6" y1="413" x2="1033.9" y2="295.6" stroke="#000" stroke-width="1" stroke-linecap="butt"/>
<polygon points="1033.9,295.6 1036.2,308.12 1037.35,304.45 1040.67,306.38" fill="#000"/>
</svg></body></html>
